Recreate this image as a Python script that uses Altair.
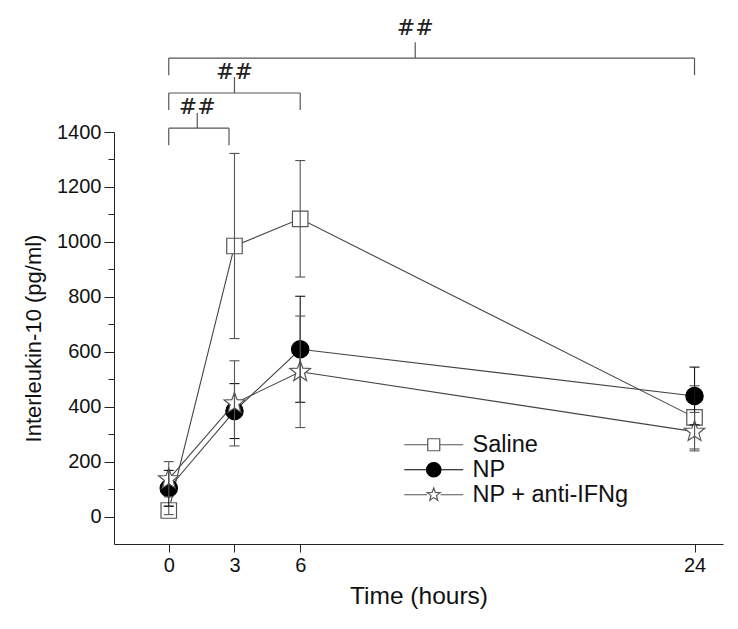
import altair as alt
import pandas as pd

# ---- data ----
time_h = [0, 3, 6, 24]
series_names = ["Saline", "NP", "NP + anti-IFNg"]
saline_mean = [22, 985, 1084, 361]
saline_sem = [15, 337, 212, 115]
np_mean = [103, 384, 609, 439]
np_sem = [65, 100, 193, 105]
ifng_mean = [136, 412, 527, 309]
ifng_sem = [64, 155, 203, 70]

# significance brackets (time units / pg/ml units)
br_start = [0, 0, 0]
br_end = [24, 6, 2.75]
br_mid = [11.25, 3.0, 1.3]
br_level = [1669, 1542, 1414]
br_bottom = [1607, 1480, 1352]
br_stem_top = [1727, 1600, 1469]
br_label_y = [1778, 1618, 1491]
br_label = ["##", "##", "##"]

rows = []
for name, means, sems in zip(series_names, [saline_mean, np_mean, ifng_mean],
                             [saline_sem, np_sem, ifng_sem]):
    for t, m, s in zip(time_h, means, sems):
        rows.append({"series": name, "time": t, "mean": m, "lo": m - s, "hi": m + s})
df = pd.DataFrame(rows)

br = pd.DataFrame({"start": br_start, "end": br_end, "mid": br_mid, "level": br_level,
                   "bottom": br_bottom, "stem_top": br_stem_top, "label_y": br_label_y,
                   "label": br_label})

STAR = ("M0,-1L0.2469,-0.3398L0.9511,-0.309L0.3995,0.1298L0.5878,0.809L0,0.42"
        "L-0.5878,0.809L-0.3995,0.1298L-0.9511,-0.309L-0.2469,-0.3398Z")

marker_shape = {"Saline": "square", "NP": "circle", "NP + anti-IFNg": STAR}
marker_size = {"Saline": 240, "NP": 300, "NP + anti-IFNg": 470}
marker_fill = {"Saline": "white", "NP": "black", "NP + anti-IFNg": "white"}
marker_stroke = {"Saline": "#555555", "NP": "black", "NP + anti-IFNg": "#555555"}
bar_color = {"Saline": "#555555", "NP": "#111111", "NP + anti-IFNg": "#555555"}

# legend symbols: line segments with marker in the middle
# (legend symbolSize 400 -> 1 path unit = 10 px)
L = 2.95
s = 0.6
LEG_SQUARE = f"M{-L},0L{-s},0M{s},0L{L},0M{-s},{-s}L{s},{-s}L{s},{s}L{-s},{s}Z"
r = 0.72
LEG_CIRCLE = (f"M{-L},0L{-r},0M{r},0L{L},0M{-r},0A{r},{r} 0 1,0 {r},0"
              f"A{r},{r} 0 1,0 {-r},0Z")
k = 0.68
pts = [(0, -1), (0.2469, -0.3398), (0.9511, -0.309), (0.3995, 0.1298), (0.5878, 0.809),
       (0, 0.42), (-0.5878, 0.809), (-0.3995, 0.1298), (-0.9511, -0.309), (-0.2469, -0.3398)]
LEG_STAR = (f"M{-L},0L{-k},0M{k},0L{L},0M"
            + "L".join(f"{px * k:.4f},{py * k:.4f}" for px, py in pts) + "Z")

x_scale = alt.Scale(domain=[-2.5, 25.3], nice=False, zero=False)
y_scale = alt.Scale(domain=[-100, 1400], nice=False, zero=False)

x_axis = alt.Axis(values=time_h, title="Time (hours)", grid=False, tickSize=8,
                  labelFontSize=20, labelPadding=3, titleFontSize=24.5,
                  titleFontWeight="normal", titlePadding=9, domainColor="#222",
                  tickColor="#222", labelColor="#111", titleColor="#111",
                  labelFont="Liberation Sans", titleFont="Liberation Sans")
y_axis = alt.Axis(values=list(range(0, 1401, 100)), title="Interleukin-10 (pg/ml)",
                  grid=False, format="d",
                  tickSize={"condition": {"test": "datum.value % 200 === 0", "value": 10},
                            "value": 6},
                  labelExpr="datum.value % 200 === 0 ? datum.label : ''",
                  labelFontSize=20, labelPadding=3, titleFontSize=22,
                  titleFontWeight="normal", titlePadding=11, domainColor="#222",
                  tickColor="#222", labelColor="#111", titleColor="#111",
                  labelFont="Liberation Sans", titleFont="Liberation Sans")


def X(field):
    return alt.X(field, scale=x_scale, axis=x_axis)


def Y(field):
    return alt.Y(field, scale=y_scale, axis=y_axis)


layers = []

# connecting lines
for name in series_names:
    layers.append(
        alt.Chart(df).transform_filter(alt.datum.series == name)
        .mark_line(color="#444444", strokeWidth=1.1)
        .encode(x=X("time:Q"), y=Y("mean:Q"))
    )

# markers
for name in series_names:
    layers.append(
        alt.Chart(df).transform_filter(alt.datum.series == name)
        .mark_point(shape=marker_shape[name], size=marker_size[name], filled=True,
                    fill=marker_fill[name], stroke=marker_stroke[name],
                    strokeWidth=1.2, opacity=1)
        .encode(x=X("time:Q"), y=Y("mean:Q"))
    )

# error bars
for name in series_names:
    base = alt.Chart(df).transform_filter(alt.datum.series == name)
    layers.append(
        base.mark_rule(color=bar_color[name], strokeWidth=1.1)
        .encode(x=X("time:Q"), y=Y("lo:Q"), y2="hi:Q")
    )
    for fld in ["lo", "hi"]:
        layers.append(
            base.mark_tick(orient="horizontal", size=10, thickness=1.1,
                           color=bar_color[name], opacity=1)
            .encode(x=X("time:Q"), y=Y(f"{fld}:Q"))
        )

# significance brackets
bcol = "#555555"
bbase = alt.Chart(br)
layers += [
    bbase.mark_rule(color=bcol, strokeWidth=1.2).encode(
        x=X("start:Q"), x2="end:Q", y=Y("level:Q")),
    bbase.mark_rule(color=bcol, strokeWidth=1.2).encode(
        x=X("start:Q"), y=Y("bottom:Q"), y2="level:Q"),
    bbase.mark_rule(color=bcol, strokeWidth=1.2).encode(
        x=X("end:Q"), y=Y("bottom:Q"), y2="level:Q"),
    bbase.mark_rule(color=bcol, strokeWidth=1.2).encode(
        x=X("mid:Q"), y=Y("level:Q"), y2="stem_top:Q"),
    bbase.mark_text(font="DejaVu Serif", fontStyle="italic", fontSize=22,
                    color="#222", baseline="middle", align="center").encode(
        x=X("mid:Q"), y=Y("label_y:Q"), text="label:N"),
]

# legend (empty layer with explicit scale domains)
leg = alt.Legend(title=None, orient="none", legendX=308, legendY=301, padding=0,
                 symbolSize=400, symbolStrokeWidth=1.2, labelFontSize=23.5,
                 labelFont="Liberation Sans", labelColor="#111", labelOffset=27,
                 rowPadding=0, labelLimit=400)
layers.append(
    alt.Chart(df).transform_filter("false")
    .mark_point(filled=True, opacity=1, strokeWidth=1.2)
    .encode(
        x=X("time:Q"), y=Y("mean:Q"),
        shape=alt.Shape("series:N", scale=alt.Scale(domain=series_names,
                        range=[LEG_SQUARE, LEG_CIRCLE, LEG_STAR]), legend=leg),
        fill=alt.Fill("series:N", scale=alt.Scale(domain=series_names,
                      range=[marker_fill[n] for n in series_names]), legend=leg),
        stroke=alt.Stroke("series:N", scale=alt.Scale(domain=series_names,
                          range=[marker_stroke[n] for n in series_names]), legend=leg),
    )
)

chart = (
    alt.layer(*layers)
    .properties(width=609, height=412,
                autosize=alt.AutoSizeParams(type="none"),
                padding={"left": 106, "top": 124, "right": 7, "bottom": 70})
    .configure(font="Liberation Sans")
    .configure_view(stroke=None)
)

chart.save("out.html", embed_options={"renderer": "svg", "actions": False})
